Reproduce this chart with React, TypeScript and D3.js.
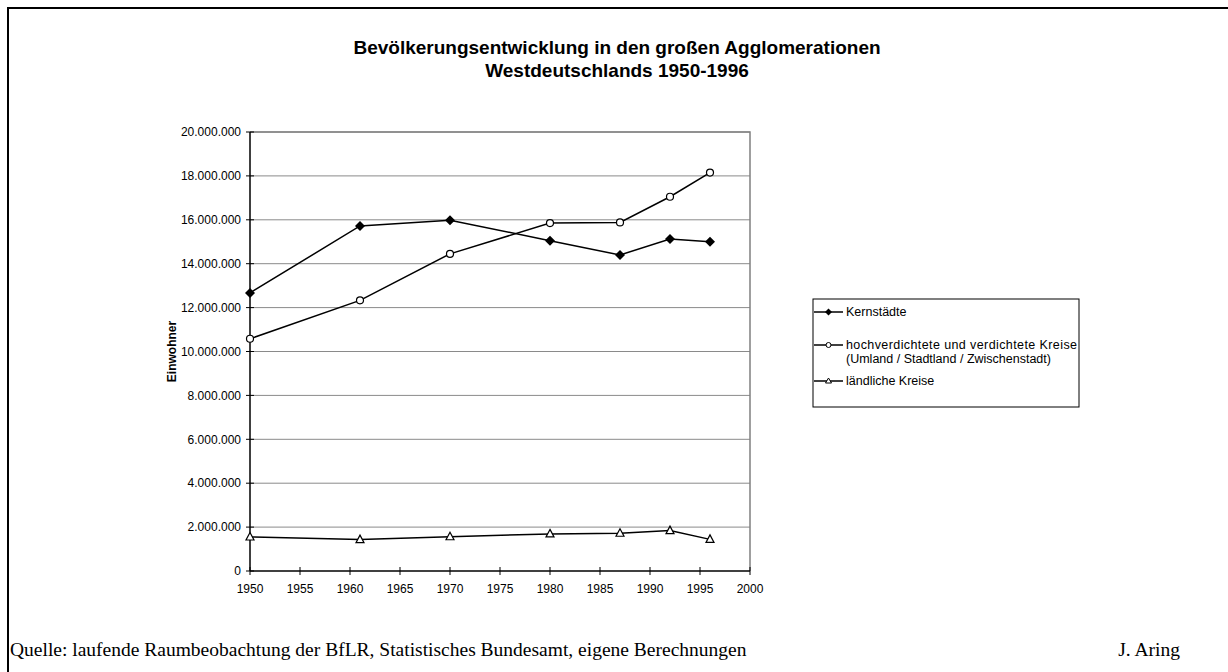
import { useEffect, useRef } from 'react';
import * as d3 from 'd3';

const years = [1950, 1961, 1970, 1980, 1987, 1992, 1996];
const kernstaedte = [12670000, 15720000, 15980000, 15050000, 14400000, 15120000, 15000000];
const umland = [10580000, 12330000, 14450000, 15850000, 15880000, 17050000, 18150000];
const laendlich = [1550000, 1430000, 1560000, 1690000, 1720000, 1840000, 1440000];

const seriesNames = [
  ['Kernstädte'],
  ['hochverdichtete und verdichtete Kreise', '(Umland / Stadtland / Zwischenstadt)'],
  ['ländliche Kreise'],
];
const yTicks = d3.range(0, 20000001, 2000000);
const xTicks = d3.range(1950, 2001, 5);

const W = 1228;
const H = 672;
const sans = 'Liberation Sans, Arial, sans-serif';
const serif = 'Liberation Serif, Times New Roman, serif';

export default function App() {
  const svgRef = useRef<SVGSVGElement>(null);

  useEffect(() => {
    const svg = d3.select(svgRef.current);
    svg.selectAll('*').remove();

    const x = d3.scaleLinear().domain([1950, 2000]).range([250, 750]);
    const y = d3.scaleLinear().domain([0, 20000000]).range([571, 132]);
    const fmt = (v: number) => d3.format(',')(v).replace(/,/g, '.');

    // outer frame
    svg.append('rect')
      .attr('x', 8).attr('y', 8)
      .attr('width', W + 20).attr('height', H + 20)
      .attr('fill', 'none').attr('stroke', '#000').attr('stroke-width', 2);

    // title
    const title = svg.append('text')
      .attr('text-anchor', 'middle')
      .style('font-family', sans).style('font-weight', 'bold').style('font-size', '19px');
    title.append('tspan').attr('x', 617).attr('y', 54).text('Bevölkerungsentwicklung in den großen Agglomerationen');
    title.append('tspan').attr('x', 617).attr('y', 77).text('Westdeutschlands 1950-1996');

    // gridlines
    svg.append('g').selectAll('line')
      .data(yTicks.filter(d => d > 0))
      .enter().append('line')
      .attr('x1', x(1950)).attr('x2', x(2000))
      .attr('y1', d => y(d)).attr('y2', d => y(d))
      .attr('stroke', '#8a8a8a').attr('stroke-width', 1);

    // plot frame (right + top)
    svg.append('path')
      .attr('d', `M${x(1950)},${y(20000000)}H${x(2000)}V${y(0)}`)
      .attr('fill', 'none').attr('stroke', '#808080').attr('stroke-width', 1.5);

    // y axis
    const yAxis = svg.append('g').attr('transform', `translate(${x(1950)},0)`);
    yAxis.append('line').attr('y1', y(0)).attr('y2', y(20000000)).attr('stroke', '#000').attr('stroke-width', 1.5);
    yAxis.selectAll('line.tick').data(yTicks).enter().append('line')
      .attr('class', 'tick')
      .attr('x1', -4).attr('x2', 4)
      .attr('y1', d => y(d)).attr('y2', d => y(d))
      .attr('stroke', '#000');
    yAxis.selectAll('text').data(yTicks).enter().append('text')
      .attr('x', -9).attr('y', d => y(d)).attr('dy', '0.35em')
      .attr('text-anchor', 'end')
      .style('font-family', sans).style('font-size', '12px')
      .text(d => fmt(d));

    // x axis
    const xAxis = svg.append('g').attr('transform', `translate(0,${y(0)})`);
    xAxis.append('line').attr('x1', x(1950)).attr('x2', x(2000)).attr('stroke', '#000').attr('stroke-width', 1.5);
    xAxis.selectAll('line.tick').data(xTicks).enter().append('line')
      .attr('class', 'tick')
      .attr('x1', d => x(d)).attr('x2', d => x(d))
      .attr('y1', -4).attr('y2', 4)
      .attr('stroke', '#000');
    xAxis.selectAll('text').data(xTicks).enter().append('text')
      .attr('x', d => x(d)).attr('y', 22)
      .attr('text-anchor', 'middle')
      .style('font-family', sans).style('font-size', '12px')
      .text(d => d);

    // y axis title
    svg.append('text')
      .attr('transform', `translate(176,${(y(0) + y(20000000)) / 2}) rotate(-90)`)
      .attr('text-anchor', 'middle')
      .style('font-family', sans).style('font-weight', 'bold').style('font-size', '12px')
      .text('Einwohner');

    const line = d3.line<number>().x((_, i) => x(years[i])).y(d => y(d));
    const allSeries = [kernstaedte, umland, laendlich];

    const drawMarker = (g: any, kind: number, cx: number, cy: number) => {
      if (kind === 0) {
        g.append('path')
          .attr('d', `M${cx},${cy - 5}L${cx + 5},${cy}L${cx},${cy + 5}L${cx - 5},${cy}Z`)
          .attr('fill', '#000');
      } else if (kind === 1) {
        g.append('circle').attr('cx', cx).attr('cy', cy).attr('r', 3.5)
          .attr('fill', '#fff').attr('stroke', '#000').attr('stroke-width', 1.2);
      } else {
        g.append('path')
          .attr('d', `M${cx},${cy - 4.5}L${cx + 4},${cy + 3}L${cx - 4},${cy + 3}Z`)
          .attr('fill', '#fff').attr('stroke', '#000').attr('stroke-width', 1.2);
      }
    };

    allSeries.forEach((vals, k) => {
      const g = svg.append('g');
      g.append('path').attr('d', line(vals))
        .attr('fill', 'none').attr('stroke', '#000').attr('stroke-width', 1.5);
      vals.forEach((v, i) => drawMarker(g, k, x(years[i]), y(v)));
    });

    // legend
    const lg = svg.append('g');
    lg.append('rect').attr('x', 813).attr('y', 299).attr('width', 266).attr('height', 108)
      .attr('fill', '#fff').attr('stroke', '#000').attr('stroke-width', 1);
    const legendY = [312, 345, 381];
    seriesNames.forEach((names, k) => {
      const ly = legendY[k];
      lg.append('line').attr('x1', 814).attr('x2', 843).attr('y1', ly).attr('y2', ly)
        .attr('stroke', '#000').attr('stroke-width', 1.5);
      if (k === 0) {
        lg.append('path').attr('d', `M828.5,${ly - 3.5}L832,${ly}L828.5,${ly + 3.5}L825,${ly}Z`).attr('fill', '#000');
      } else if (k === 1) {
        lg.append('circle').attr('cx', 828.5).attr('cy', ly).attr('r', 2.5)
          .attr('fill', '#fff').attr('stroke', '#000');
      } else {
        lg.append('path').attr('d', `M828.5,${ly - 3}L831.5,${ly + 2}L825.5,${ly + 2}Z`)
          .attr('fill', '#fff').attr('stroke', '#000');
      }
      names.forEach((n, j) => {
        lg.append('text').attr('x', 846).attr('y', ly + j * 13.5).attr('dy', '0.35em')
          .style('font-family', sans).style('font-size', '12.5px')
          .attr('textLength', j === 0 && k === 1 ? 231 : null)
          .text(n);
      });
    });

    // footer
    svg.append('text').attr('x', 10).attr('y', 656)
      .style('font-family', serif).style('font-size', '19.5px')
      .text('Quelle: laufende Raumbeobachtung der BfLR, Statistisches Bundesamt, eigene Berechnungen');
    svg.append('text').attr('x', 1180).attr('y', 656)
      .attr('text-anchor', 'end')
      .style('font-family', serif).style('font-size', '19.5px')
      .text('J. Aring');
  }, []);

  return (
    <svg ref={svgRef} width={W} height={H}
      style={{ position: 'absolute', left: 0, top: 0, background: '#fff' }} />
  );
}
